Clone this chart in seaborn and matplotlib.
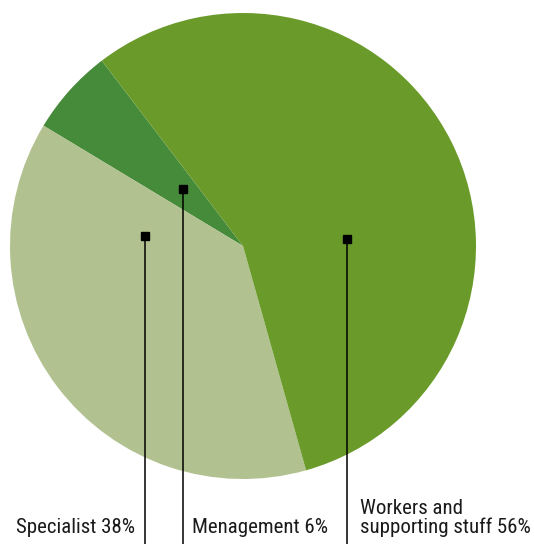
import matplotlib
matplotlib.use("Agg")
import matplotlib.pyplot as plt
import seaborn as sns

# Staff structure shares (percent)
groups = ["Menagement", "Specialist", "Workers and\nsupporting stuff"]
shares = [6, 38, 56]
colors = ["#468b3a", "#b1c18f", "#6a9b2a"]

sns.set_style("white")
plt.rcParams["font.family"] = ["Roboto Condensed", "Roboto", "DejaVu Sans"]

W, H = 534, 544
fig = plt.figure(figsize=(W / 100, H / 100), dpi=100)
ax = fig.add_axes([0, 0, 1, 1])

# pie centre / radius in pixel space (y measured up from bottom)
cx, cy, r = 243, H - 246, 233
ax.pie(shares, colors=colors, startangle=127.3, counterclock=True,
       center=(cx, cy), radius=r, frame=True,
       wedgeprops=dict(linewidth=0))
ax.set_xlim(0, W)
ax.set_ylim(0, H)
ax.set_aspect("equal")
ax.axis("off")

# leader markers (x, y in image pixels) and label baselines
markers = [(183, 189), (145, 236), (347, 239)]
label_pos = [(192, 533), (16, 533), (360, 533)]
for (mx, my), (lx, ly), name, val in zip(markers, label_pos, groups, shares):
    ax.plot([mx, mx], [H - my, 0], color="black", lw=1.1, solid_capstyle="butt")
    ax.plot(mx, H - my, marker="s", ms=6, color="black", mec="black")
    ax.text(lx, H - ly, f"{name} {val}%", fontsize=15, ha="left", va="baseline",
            color="#1a1a1a", linespacing=0.95)

fig.savefig("out.png", dpi=100, facecolor="white")
